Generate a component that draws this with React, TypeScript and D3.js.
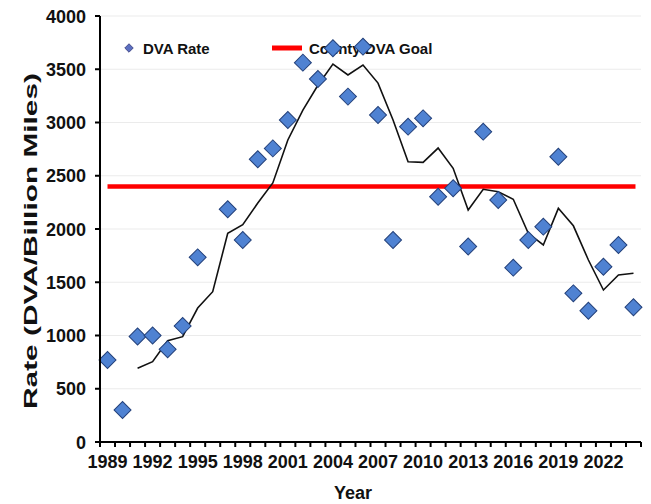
import { useEffect, useRef } from 'react'
import * as d3 from 'd3'

const years = [
  1989, 1990, 1991, 1992, 1993, 1994, 1995, 1996, 1997, 1998, 1999, 2000,
  2001, 2002, 2003, 2004, 2005, 2006, 2007, 2008, 2009, 2010, 2011, 2012,
  2013, 2014, 2015, 2016, 2017, 2018, 2019, 2020, 2021, 2022, 2023, 2024,
]

// DVA rate per billion miles (1996 has no point)
const dvaRate: (number | null)[] = [
  770, 300, 990, 1000, 870, 1090, 1734, null, 2185, 1897, 2655, 2757,
  3023, 3562, 3408, 3697, 3243, 3712, 3070, 1897, 2961, 3039, 2303, 2382,
  1836, 2914, 2272, 1637, 1897, 2022, 2679, 1396, 1233, 1646, 1850, 1265,
]

// moving average trend line
const movingAvg: (number | null)[] = [
  null, null, 692, 754, 951, 989, 1258, 1411, 1960, 2040, 2244, 2432,
  2836, 3117, 3350, 3549, 3446, 3540, 3370, 3023, 2632, 2626, 2760, 2570,
  2178, 2373, 2350, 2279, 1960, 1850, 2194, 2030, 1709, 1427, 1568, 1584,
]

const goal = 2400
const yTicks = [0, 500, 1000, 1500, 2000, 2500, 3000, 3500, 4000]
const xLabels = [1989, 1992, 1995, 1998, 2001, 2004, 2007, 2010, 2013, 2016, 2019, 2022]

const W = 651
const H = 504
const FONT = 'Liberation Sans, Arial, sans-serif'

export default function App() {
  const svgRef = useRef<SVGSVGElement>(null)

  useEffect(() => {
    if (!svgRef.current) return
    const svg = d3.select(svgRef.current)
    svg.selectAll('*').remove()

    const left = 100
    const right = 641
    const top = 16
    const bottom = 442

    const x = d3.scaleBand<number>().domain(years).range([left, right]).padding(0)
    const cx = (yr: number) => (x(yr) as number) + x.bandwidth() / 2
    const y = d3.scaleLinear().domain([0, 4000]).range([bottom, top])

    svg.append('rect').attr('width', W).attr('height', H).attr('fill', '#fff')

    // gridlines
    svg.append('g')
      .selectAll('line')
      .data(yTicks.filter(d => d > 0))
      .join('line')
      .attr('x1', left)
      .attr('x2', right)
      .attr('y1', d => y(d))
      .attr('y2', d => y(d))
      .attr('stroke', '#ebebeb')
      .attr('stroke-width', 1)

    // legend (drawn beneath the data, as in the original)
    const lg = svg.append('g').attr('font-family', FONT).attr('font-weight', 'bold').attr('font-size', 15)
    lg.append('path')
      .attr('d', d3.symbol(d3.symbolSquare, 36)() as string)
      .attr('transform', 'translate(129,48) rotate(45)')
      .attr('fill', '#5b6fc0')
      .attr('stroke', '#3a3f80')
      .attr('stroke-width', 0.8)
    lg.append('text').attr('x', 143).attr('y', 53.5).attr('fill', '#111').text('DVA Rate')
    lg.append('line')
      .attr('x1', 272).attr('x2', 302).attr('y1', 48).attr('y2', 48)
      .attr('stroke', '#ff0000').attr('stroke-width', 5)
    lg.append('text').attr('x', 309).attr('y', 53.5).attr('fill', '#111').text('County DVA Goal')

    // goal line
    svg.append('line')
      .attr('x1', cx(years[0]))
      .attr('x2', cx(years[years.length - 1]) + 2)
      .attr('y1', y(goal))
      .attr('y2', y(goal))
      .attr('stroke', '#ff0000')
      .attr('stroke-width', 4.5)

    // moving average
    const line = d3.line<number | null>()
      .defined(d => d !== null)
      .x((_, i) => cx(years[i]))
      .y(d => y(d as number))
    svg.append('path')
      .datum(movingAvg)
      .attr('fill', 'none')
      .attr('stroke', '#111')
      .attr('stroke-width', 1.6)
      .attr('d', line)

    // diamonds
    const pts = years.map((yr, i) => ({ yr, v: dvaRate[i] })).filter(p => p.v !== null)
    svg.append('g')
      .selectAll('path')
      .data(pts)
      .join('path')
      .attr('d', d3.symbol(d3.symbolSquare, 144)() as string)
      .attr('transform', d => `translate(${cx(d.yr)},${y(d.v as number)}) rotate(45)`)
      .attr('fill', '#4f82d2')
      .attr('stroke', '#23407a')
      .attr('stroke-width', 1)

    // axes
    const ax = svg.append('g').attr('stroke', '#000').attr('stroke-width', 2)
    ax.append('line').attr('x1', left).attr('x2', left).attr('y1', top).attr('y2', bottom + 1)
    ax.append('line').attr('x1', left - 1).attr('x2', right).attr('y1', bottom).attr('y2', bottom)
    ax.selectAll('.yt')
      .data(yTicks)
      .join('line')
      .attr('class', 'yt')
      .attr('x1', left - 5)
      .attr('x2', left)
      .attr('y1', d => y(d))
      .attr('y2', d => y(d))
    ax.selectAll('.xt')
      .data([...years.map(yr => x(yr) as number), right])
      .join('line')
      .attr('class', 'xt')
      .attr('x1', d => d)
      .attr('x2', d => d)
      .attr('y1', bottom)
      .attr('y2', bottom + 5)

    const tl = svg.append('g').attr('font-family', FONT).attr('font-weight', 'bold').attr('font-size', 18).attr('fill', '#111')
    tl.selectAll('.yl')
      .data(yTicks)
      .join('text')
      .attr('class', 'yl')
      .attr('x', 86)
      .attr('y', d => y(d) + 6.5)
      .attr('text-anchor', 'end')
      .text(d => d)
    tl.selectAll('.xl')
      .data(xLabels)
      .join('text')
      .attr('class', 'xl')
      .attr('x', d => cx(d))
      .attr('y', 468)
      .attr('text-anchor', 'middle')
      .text(d => d)

    tl.append('text')
      .attr('x', 353)
      .attr('y', 499)
      .attr('text-anchor', 'middle')
      .text('Year')

    tl.append('text')
      .attr('transform', 'translate(37,241) rotate(-90)')
      .attr('text-anchor', 'middle')
      .attr('font-size', 19)
      .attr('textLength', 336)
      .attr('lengthAdjust', 'spacingAndGlyphs')
      .text('Rate (DVA/Billion Miles)')
  }, [])

  return (
    <div style={{ position: 'absolute', left: 0, top: 0 }}>
      <svg ref={svgRef} width={W} height={H} style={{ display: 'block' }} />
    </div>
  )
}
